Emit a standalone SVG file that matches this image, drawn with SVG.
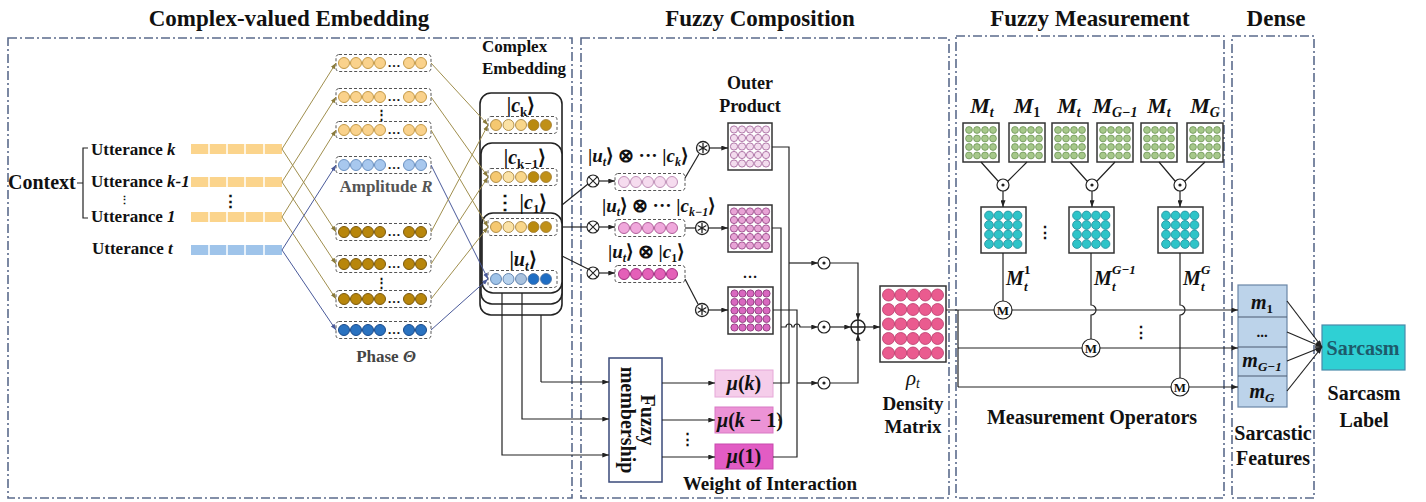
<svg xmlns="http://www.w3.org/2000/svg" width="1426" height="502" viewBox="0 0 1426 502">
<style>
text{font-family:"Liberation Serif","Times New Roman",serif;font-weight:bold;fill:#111}
.t{font-size:23px;text-anchor:middle}
.lb{font-size:17px}
.mi{font-style:italic}
.mid{text-anchor:middle}
.panel{fill:none;stroke:#5b6b8c;stroke-width:1.6;stroke-dasharray:9 3 2 3}
.ol{stroke:#a08f4e;stroke-width:1;fill:none}
.bl{stroke:#4a5a9a;stroke-width:1;fill:none}
.k{stroke:#222;stroke-width:1.2;fill:none}
.dash{fill:none;stroke:#555;stroke-width:1;stroke-dasharray:3 2}
.stack{fill:#fff;stroke:#222;stroke-width:1.6}
.mat{fill:#fff;stroke:#333;stroke-width:1.5}
.sep{stroke:#fff;stroke-width:1.5}
</style>
<defs>
<marker id="ak" viewBox="0 0 8 6" refX="8" refY="3" markerWidth="7" markerHeight="5" orient="auto" markerUnits="userSpaceOnUse"><path d="M0 0 L8 3 L0 6z" fill="#222"/></marker>
<marker id="ao" viewBox="0 0 8 6" refX="8" refY="3" markerWidth="6" markerHeight="5" orient="auto" markerUnits="userSpaceOnUse"><path d="M0 0 L8 3 L0 6z" fill="#8a7a3a"/></marker>
<marker id="ab" viewBox="0 0 8 6" refX="8" refY="3" markerWidth="6" markerHeight="5" orient="auto" markerUnits="userSpaceOnUse"><path d="M0 0 L8 3 L0 6z" fill="#4a5a9a"/></marker>
<g id="row6"><rect x="0" y="-8.5" width="95" height="17" rx="3" fill="none" stroke="#555" stroke-dasharray="3 2"/><circle cx="8" r="5.5"/><circle cx="20" r="5.5"/><circle cx="32" r="5.5"/><circle cx="44" r="5.5"/><circle cx="73" r="5.5"/><circle cx="85" r="5.5"/></g>
<g id="row5"><rect x="0" y="-8.5" width="70" height="17" rx="3" fill="none" stroke="#555" stroke-dasharray="3 2"/><circle cx="9" r="5.5"/><circle cx="21" r="5.5"/><circle cx="33" r="5.5"/><circle cx="45" r="5.5"/><circle cx="57" r="5.5"/></g>
<g id="m5"><circle cx="6" cy="6.5" r="3.6"/><circle cx="14" cy="6.5" r="3.6"/><circle cx="22" cy="6.5" r="3.6"/><circle cx="30" cy="6.5" r="3.6"/><circle cx="38" cy="6.5" r="3.6"/>
<circle cx="6" cy="15" r="3.6"/><circle cx="14" cy="15" r="3.6"/><circle cx="22" cy="15" r="3.6"/><circle cx="30" cy="15" r="3.6"/><circle cx="38" cy="15" r="3.6"/>
<circle cx="6" cy="23.5" r="3.6"/><circle cx="14" cy="23.5" r="3.6"/><circle cx="22" cy="23.5" r="3.6"/><circle cx="30" cy="23.5" r="3.6"/><circle cx="38" cy="23.5" r="3.6"/>
<circle cx="6" cy="32" r="3.6"/><circle cx="14" cy="32" r="3.6"/><circle cx="22" cy="32" r="3.6"/><circle cx="30" cy="32" r="3.6"/><circle cx="38" cy="32" r="3.6"/>
<circle cx="6" cy="40.5" r="3.6"/><circle cx="14" cy="40.5" r="3.6"/><circle cx="22" cy="40.5" r="3.6"/><circle cx="30" cy="40.5" r="3.6"/><circle cx="38" cy="40.5" r="3.6"/></g>
<g id="md"><circle cx="8.5" cy="9" r="6"/><circle cx="20.75" cy="9" r="6"/><circle cx="33" cy="9" r="6"/><circle cx="45.25" cy="9" r="6"/><circle cx="57.5" cy="9" r="6"/>
<circle cx="8.5" cy="23.5" r="6"/><circle cx="20.75" cy="23.5" r="6"/><circle cx="33" cy="23.5" r="6"/><circle cx="45.25" cy="23.5" r="6"/><circle cx="57.5" cy="23.5" r="6"/>
<circle cx="8.5" cy="38" r="6"/><circle cx="20.75" cy="38" r="6"/><circle cx="33" cy="38" r="6"/><circle cx="45.25" cy="38" r="6"/><circle cx="57.5" cy="38" r="6"/>
<circle cx="8.5" cy="52.5" r="6"/><circle cx="20.75" cy="52.5" r="6"/><circle cx="33" cy="52.5" r="6"/><circle cx="45.25" cy="52.5" r="6"/><circle cx="57.5" cy="52.5" r="6"/>
<circle cx="8.5" cy="67" r="6"/><circle cx="20.75" cy="67" r="6"/><circle cx="33" cy="67" r="6"/><circle cx="45.25" cy="67" r="6"/><circle cx="57.5" cy="67" r="6"/></g>
<g id="mg"><circle cx="6" cy="7" r="3.4"/><circle cx="14" cy="7" r="3.4"/><circle cx="22" cy="7" r="3.4"/><circle cx="30" cy="7" r="3.4"/>
<circle cx="6" cy="15.5" r="3.4"/><circle cx="14" cy="15.5" r="3.4"/><circle cx="22" cy="15.5" r="3.4"/><circle cx="30" cy="15.5" r="3.4"/>
<circle cx="6" cy="24" r="3.4"/><circle cx="14" cy="24" r="3.4"/><circle cx="22" cy="24" r="3.4"/><circle cx="30" cy="24" r="3.4"/>
<circle cx="6" cy="32.5" r="3.4"/><circle cx="14" cy="32.5" r="3.4"/><circle cx="22" cy="32.5" r="3.4"/><circle cx="30" cy="32.5" r="3.4"/></g>
<g id="mc"><circle cx="8" cy="8.5" r="4.4"/><circle cx="17.5" cy="8.5" r="4.4"/><circle cx="27" cy="8.5" r="4.4"/><circle cx="36.5" cy="8.5" r="4.4"/>
<circle cx="8" cy="18" r="4.4"/><circle cx="17.5" cy="18" r="4.4"/><circle cx="27" cy="18" r="4.4"/><circle cx="36.5" cy="18" r="4.4"/>
<circle cx="8" cy="27.5" r="4.4"/><circle cx="17.5" cy="27.5" r="4.4"/><circle cx="27" cy="27.5" r="4.4"/><circle cx="36.5" cy="27.5" r="4.4"/>
<circle cx="8" cy="37" r="4.4"/><circle cx="17.5" cy="37" r="4.4"/><circle cx="27" cy="37" r="4.4"/><circle cx="36.5" cy="37" r="4.4"/></g>
<g id="odot"><circle r="6" fill="#fff" stroke="#222" stroke-width="1.2"/><circle r="1.6" fill="#222"/></g>
<g id="otimes"><circle r="6" fill="#fff" stroke="#222" stroke-width="1.1"/><path d="M-4.2 -4.2 L4.2 4.2 M-4.2 4.2 L4.2 -4.2" stroke="#222" stroke-width="1.1"/></g>
<g id="ostar"><circle r="6.5" fill="#fff" stroke="#222" stroke-width="1.3"/><path d="M0 -5 V5 M-4.3 -2.5 L4.3 2.5 M-4.3 2.5 L4.3 -2.5" stroke="#222" stroke-width="1.3"/></g>
<g id="oplus"><circle r="7" fill="#fff" stroke="#222" stroke-width="1.5"/><path d="M-7 0 H7 M0 -7 V7" stroke="#222" stroke-width="1.5"/></g>
<g id="mcirc"><circle r="9" fill="#fff" stroke="#222" stroke-width="1.2"/></g>
</defs>

<rect width="1426" height="502" fill="#fff"/>

<!-- panels -->
<g id="panels">
<rect class="panel" x="8" y="38" width="564" height="460"/>
<rect class="panel" x="581" y="38" width="368" height="460"/>
<rect class="panel" x="956" y="36" width="268" height="462"/>
<rect class="panel" x="1232" y="36" width="82" height="462"/>
<text class="t" x="289" y="26">Complex-valued Embedding</text>
<text class="t" x="760" y="26">Fuzzy Composition</text>
<text class="t" x="1090" y="26">Fuzzy Measurement</text>
<text class="t" x="1276" y="26">Dense</text>
</g>

<!-- context -->
<g id="context">
<text x="8" y="189" font-size="20">Context</text>
<path class="k" d="M88 148 H83 V218 H88 M83 183 H77"/>
<text class="lb" x="91" y="155">Utterance <tspan class="mi">k</tspan></text>
<text class="lb" x="91" y="187">Utterance <tspan class="mi">k-1</tspan></text>
<text x="119" y="204" font-size="11">⋮</text>
<text class="lb" x="91" y="222">Utterance <tspan class="mi">1</tspan></text>
<text class="lb" x="92" y="254">Utterance <tspan class="mi">t</tspan></text>
</g>

<g id="bars">
<rect x="191" y="144" width="91" height="10" fill="#fbd48c"/>
<rect x="191" y="177" width="91" height="10" fill="#fbd48c"/>
<rect x="191" y="212" width="91" height="10" fill="#fbd48c"/>
<rect x="191" y="245" width="91" height="10" fill="#9fc4ea"/>
<path class="sep" d="M209 144v10M227 144v10M245 144v10M264 144v10M209 177v10M227 177v10M245 177v10M264 177v10M209 212v10M227 212v10M245 212v10M264 212v10M209 245v10M227 245v10M245 245v10M264 245v10"/>
<text class="lb" x="230" y="207" text-anchor="middle">⋮</text>
</g>

<!-- amplitude / phase rows -->
<g id="amplitude">
<use href="#row6" x="336" y="63" fill="#fad28c" stroke="#c49a48"/>
<use href="#row6" x="336" y="97" fill="#fad28c" stroke="#c49a48"/>
<use href="#row6" x="336" y="130" fill="#fad28c" stroke="#c49a48"/>
<use href="#row6" x="336" y="165" fill="#a8c8ee" stroke="#6a90c0"/>
<text x="394" y="67" font-size="13" class="mid">…</text>
<text x="394" y="101" font-size="13" class="mid">…</text>
<text x="394" y="134" font-size="13" class="mid">…</text>
<text x="394" y="169" font-size="13" class="mid">…</text>
<text x="381" y="119" font-size="13" class="mid">⋮</text>
<text x="386" y="192" font-size="17" class="mid" style="fill:#555">Amplitude <tspan class="mi" style="fill:#555">R</tspan></text>
</g>
<g id="phase">
<use href="#row6" x="336" y="232" fill="#b8860b" stroke="#7a5a10"/>
<use href="#row6" x="336" y="264" fill="#b8860b" stroke="#7a5a10"/>
<use href="#row6" x="336" y="299" fill="#b8860b" stroke="#7a5a10"/>
<use href="#row6" x="336" y="330" fill="#2a72c0" stroke="#1a4a8a"/>
<text x="394" y="236" font-size="13" class="mid">…</text>
<text x="394" y="268" font-size="13" class="mid">…</text>
<text x="394" y="303" font-size="13" class="mid">…</text>
<text x="394" y="334" font-size="13" class="mid">…</text>
<text x="381" y="287" font-size="13" class="mid">⋮</text>
<text x="386" y="362" font-size="17" class="mid" style="fill:#444">Phase <tspan class="mi" style="fill:#444">Θ</tspan></text>
</g>

<!-- complex embedding stack -->
<g id="complex-embedding">
<text x="482" y="52" font-size="17">Complex</text>
<text x="482" y="74" font-size="17">Embedding</text>
<rect class="stack" x="480" y="93" width="82" height="222" rx="11"/>
<rect class="stack" x="481" y="143" width="81" height="161" rx="11"/>
<rect class="stack" x="482" y="213" width="80" height="80" rx="11"/>
<text x="521" y="112" font-size="20" class="mid">|<tspan class="mi">c</tspan><tspan font-size="13" dy="4">k</tspan><tspan dy="-4">⟩</tspan></text>
<text x="525" y="164" font-size="20" class="mid">|<tspan class="mi">c</tspan><tspan font-size="13" dy="4">k−1</tspan><tspan dy="-4">⟩</tspan></text>
<text x="521" y="209" font-size="20" class="mid">⋮ |<tspan class="mi">c</tspan><tspan font-size="13" dy="4">1</tspan><tspan dy="-4">⟩</tspan></text>
<text x="523" y="266" font-size="20" class="mid">|<tspan class="mi">u</tspan><tspan font-size="13" dy="4" class="mi">t</tspan><tspan dy="-4">⟩</tspan></text>
<g stroke="#a07a30" stroke-width="0.8">
<rect x="488" y="116.5" width="69" height="17" rx="3" class="dash"/>
<circle cx="496" cy="125" r="5.5" fill="#f5c870"/><circle cx="508.5" cy="125" r="5.5" fill="#fbe2a6"/><circle cx="521" cy="125" r="5.5" fill="#f9d68a"/><circle cx="533.5" cy="125" r="5.5" fill="#b98a10"/><circle cx="546" cy="125" r="5.5" fill="#c09018"/>
<rect x="488" y="168.5" width="69" height="17" rx="3" class="dash"/>
<circle cx="496" cy="177" r="5.5" fill="#f5c870"/><circle cx="508.5" cy="177" r="5.5" fill="#fbe2a6"/><circle cx="521" cy="177" r="5.5" fill="#f9d68a"/><circle cx="533.5" cy="177" r="5.5" fill="#b98a10"/><circle cx="546" cy="177" r="5.5" fill="#c09018"/>
<rect x="488" y="218.5" width="69" height="17" rx="3" class="dash"/>
<circle cx="496" cy="227" r="5.5" fill="#f5c870"/><circle cx="508.5" cy="227" r="5.5" fill="#fbe2a6"/><circle cx="521" cy="227" r="5.5" fill="#f9d68a"/><circle cx="533.5" cy="227" r="5.5" fill="#b98a10"/><circle cx="546" cy="227" r="5.5" fill="#c09018"/>
</g>
<g stroke="#4a70a0" stroke-width="0.8">
<rect x="488" y="270.5" width="69" height="17" rx="3" class="dash"/>
<circle cx="496" cy="279" r="5.5" fill="#9fc3e8"/><circle cx="508.5" cy="279" r="5.5" fill="#b8d3ee"/><circle cx="521" cy="279" r="5.5" fill="#a9c2de"/><circle cx="533.5" cy="279" r="5.5" fill="#1f6ec4"/><circle cx="546" cy="279" r="5.5" fill="#1f6ec4"/>
</g>
</g>

<!-- fuzzy composition nodes -->
<g id="tensor-rows">
<use href="#row5" x="615" y="182" fill="#f6dcef" stroke="#c090b8"/>
<use href="#row5" x="615" y="228" fill="#f0a8dc" stroke="#b0609a"/>
<use href="#row5" x="615" y="274" fill="#e460b8" stroke="#a03080"/>
<text x="588" y="162" font-size="19">|<tspan class="mi">u</tspan><tspan font-size="12" dy="4" class="mi">t</tspan><tspan dy="-4">⟩ ⊗ ··· |</tspan><tspan class="mi">c</tspan><tspan font-size="12" dy="4" class="mi">k</tspan><tspan dy="-4">⟩</tspan></text>
<text x="602" y="212" font-size="19">|<tspan class="mi">u</tspan><tspan font-size="12" dy="4" class="mi">t</tspan><tspan dy="-4">⟩ ⊗ ··· |</tspan><tspan class="mi">c</tspan><tspan font-size="12" dy="4" class="mi">k−1</tspan><tspan dy="-4">⟩</tspan></text>
<text x="608" y="258" font-size="19">|<tspan class="mi">u</tspan><tspan font-size="12" dy="4" class="mi">t</tspan><tspan dy="-4">⟩ ⊗ |</tspan><tspan class="mi">c</tspan><tspan font-size="12" dy="4">1</tspan><tspan dy="-4">⟩</tspan></text>
</g>
<g id="outer-product">
<text x="750" y="89" font-size="18" class="mid">Outer</text>
<text x="750" y="112" font-size="18" class="mid">Product</text>
<rect class="mat" x="728" y="123" width="44" height="47"/>
<use href="#m5" x="728" y="123" fill="#f3dcee" stroke="#a86ca0" stroke-width="0.9"/>
<rect class="mat" x="728" y="205" width="44" height="47"/>
<use href="#m5" x="728" y="205" fill="#e8a4d6" stroke="#9a4a8a" stroke-width="0.9"/>
<text x="750" y="278" font-size="15" class="mid">…</text>
<rect class="mat" x="728" y="287" width="45" height="47"/>
<use href="#m5" x="728.5" y="287" fill="#d968c0" stroke="#8a3a7a" stroke-width="0.9"/>
</g>
<g id="fuzzy-membership">
<rect x="609" y="358" width="53" height="124" fill="#fff" stroke="#3a4a7a" stroke-width="1.5"/>
<text transform="translate(641,420) rotate(90)" font-size="20" class="mid">Fuzzy</text>
<text transform="translate(621,420) rotate(90)" font-size="20" class="mid">membership</text>
</g>
<g id="weights">
<rect x="715" y="370" width="58" height="27" fill="#f5cdea" stroke="#e6a8d8"/>
<rect x="715" y="407" width="58" height="26" fill="#ec93d6" stroke="#d878c4"/>
<rect x="715" y="444" width="58" height="25" fill="#e25cc4" stroke="#c848ac"/>
<text x="744" y="390" font-size="20" class="mid"><tspan class="mi">μ</tspan>(<tspan class="mi">k</tspan>)</text>
<text x="717" y="427" font-size="20"><tspan class="mi">μ</tspan>(<tspan class="mi">k</tspan> − 1)</text>
<text x="744" y="463" font-size="20" class="mid"><tspan class="mi">μ</tspan>(1)</text>
<text x="687" y="444" font-size="15" class="mid">⋮</text>
<text x="770" y="490" font-size="19" class="mid">Weight of Interaction</text>
</g>
<g id="density-matrix">
<rect class="mat" x="880" y="286" width="66" height="76"/>
<use href="#md" x="880" y="286" fill="#ea5b8f" stroke="#b83a6a" stroke-width="0.8"/>
<text x="913" y="385" font-size="21" class="mid" style="font-weight:normal"><tspan class="mi">ρ</tspan><tspan font-size="14" dy="3" class="mi">t</tspan></text>
<text x="913" y="410" font-size="19" class="mid">Density</text>
<text x="913" y="433" font-size="19" class="mid">Matrix</text>
</g>

<!-- fuzzy measurement nodes -->
<g id="projectors">
<text x="982" y="113" font-size="22" class="mid mi">M<tspan font-size="14" dy="4">t</tspan></text>
<text x="1027" y="113" font-size="22" class="mid mi">M<tspan font-size="14" dy="4" style="font-style:normal">1</tspan></text>
<text x="1069" y="113" font-size="22" class="mid mi">M<tspan font-size="14" dy="4">t</tspan></text>
<text x="1115" y="113" font-size="22" class="mid mi">M<tspan font-size="14" dy="4">G−1</tspan></text>
<text x="1159" y="113" font-size="22" class="mid mi">M<tspan font-size="14" dy="4">t</tspan></text>
<text x="1205" y="113" font-size="22" class="mid mi">M<tspan font-size="14" dy="4">G</tspan></text>
<rect class="mat" x="963" y="123" width="36" height="39"/><use href="#mg" x="963" y="123" fill="#a6c88a" stroke="#6e9658" stroke-width="0.8"/>
<rect class="mat" x="1009" y="123" width="36" height="39"/><use href="#mg" x="1009" y="123" fill="#a6c88a" stroke="#6e9658" stroke-width="0.8"/>
<rect class="mat" x="1052" y="123" width="36" height="39"/><use href="#mg" x="1052" y="123" fill="#a6c88a" stroke="#6e9658" stroke-width="0.8"/>
<rect class="mat" x="1097" y="123" width="36" height="39"/><use href="#mg" x="1097" y="123" fill="#a6c88a" stroke="#6e9658" stroke-width="0.8"/>
<rect class="mat" x="1141" y="123" width="36" height="39"/><use href="#mg" x="1141" y="123" fill="#a6c88a" stroke="#6e9658" stroke-width="0.8"/>
<rect class="mat" x="1187" y="123" width="36" height="39"/><use href="#mg" x="1187" y="123" fill="#a6c88a" stroke="#6e9658" stroke-width="0.8"/>
</g>
<g id="measurement-operators">
<rect class="mat" x="981" y="207" width="45" height="46"/><use href="#mc" x="981" y="207" fill="#2ec4c8" stroke="#1f8a9a" stroke-width="0.8"/>
<rect class="mat" x="1069" y="207" width="45" height="46"/><use href="#mc" x="1069" y="207" fill="#2ec4c8" stroke="#1f8a9a" stroke-width="0.8"/>
<rect class="mat" x="1158" y="207" width="45" height="46"/><use href="#mc" x="1158" y="207" fill="#2ec4c8" stroke="#1f8a9a" stroke-width="0.8"/>
<text x="1045" y="238" font-size="16" class="mid">⋮</text>
<text x="1006" y="285" font-size="20" class="mi">M</text><text x="1024" y="274" font-size="13">1</text><text x="1024" y="291" font-size="13" class="mi">t</text>
<text x="1094" y="285" font-size="20" class="mi">M</text><text x="1112" y="274" font-size="13" class="mi">G−1</text><text x="1112" y="291" font-size="13" class="mi">t</text>
<text x="1183" y="285" font-size="20" class="mi">M</text><text x="1201" y="274" font-size="13" class="mi">G</text><text x="1201" y="291" font-size="13" class="mi">t</text>
<text x="1141" y="338" font-size="16" class="mid">⋮</text>
<text x="1092" y="424" font-size="20" class="mid">Measurement Operators</text>
</g>

<!-- dense -->
<g id="sarcastic-features">
<rect x="1238" y="285" width="49" height="122" fill="#bcd3ea" stroke="#6a86a6" stroke-width="1.2"/>
<path d="M1238 317H1287M1238 347H1287M1238 376H1287" stroke="#4a5a70" stroke-width="1.2"/>
<text x="1262" y="309" font-size="20" class="mid"><tspan class="mi">m</tspan><tspan font-size="13" dy="4">1</tspan></text>
<text x="1262" y="337" font-size="15" class="mid">...</text>
<text x="1262" y="367" font-size="20" class="mid"><tspan class="mi">m</tspan><tspan font-size="13" dy="4" class="mi">G−1</tspan></text>
<text x="1262" y="398" font-size="20" class="mid"><tspan class="mi">m</tspan><tspan font-size="13" dy="4" class="mi">G</tspan></text>
<text x="1273" y="440" font-size="20" class="mid">Sarcastic</text>
<text x="1273" y="465" font-size="20" class="mid">Features</text>
</g>
<g id="sarcasm-label">
<rect x="1322" y="325" width="83" height="45" fill="#2fd0d4" stroke="#4a8aaa" stroke-width="1.2"/>
<text x="1363" y="355" font-size="20" class="mid" style="fill:#1d5a6b">Sarcasm</text>
<text x="1364" y="400" font-size="20" class="mid">Sarcasm</text>
<text x="1364" y="427" font-size="20" class="mid">Label</text>
</g>

<!-- connectors -->
<g id="connectors">
<path class="ol" marker-end="url(#ao)" d="M282 149 L336 63"/>
<path class="ol" marker-end="url(#ao)" d="M282 149 L336 232"/>
<path class="ol" marker-end="url(#ao)" d="M282 182 L336 97"/>
<path class="ol" marker-end="url(#ao)" d="M282 182 L336 264"/>
<path class="ol" marker-end="url(#ao)" d="M282 217 L336 130"/>
<path class="ol" marker-end="url(#ao)" d="M282 217 L336 299"/>
<path class="bl" marker-end="url(#ab)" d="M282 250 L336 165"/>
<path class="bl" marker-end="url(#ab)" d="M282 250 L336 330"/>
<path class="ol" marker-end="url(#ao)" d="M431 63 L488 125"/>
<path class="ol" marker-end="url(#ao)" d="M431 97 L488 177"/>
<path class="ol" marker-end="url(#ao)" d="M431 130 L488 227"/>
<path class="bl" marker-end="url(#ab)" d="M431 165 L488 279"/>
<path class="ol" marker-end="url(#ao)" d="M431 232 L488 125"/>
<path class="ol" marker-end="url(#ao)" d="M431 264 L488 177"/>
<path class="ol" marker-end="url(#ao)" d="M431 299 L488 227"/>
<path class="bl" marker-end="url(#ab)" d="M431 330 L488 279"/>

<path class="k" d="M562 205 L588 184"/>
<path class="k" d="M562 227 L587 227"/>
<path class="k" d="M562 256 L588 269"/>
<use href="#otimes" x="593" y="181"/>
<use href="#otimes" x="593" y="227"/>
<use href="#otimes" x="593" y="273"/>
<path class="k" marker-end="url(#ak)" d="M599 181 H615"/>
<path class="k" marker-end="url(#ak)" d="M599 227 H615"/>
<path class="k" marker-end="url(#ak)" d="M599 273 H615"/>

<path class="k" d="M685 178 L699 154"/>
<path class="k" d="M685 228 H696"/>
<path class="k" d="M685 279 L698 304"/>
<use href="#ostar" x="703" y="148"/>
<use href="#ostar" x="702" y="228"/>
<use href="#ostar" x="702" y="310"/>
<path class="k" marker-end="url(#ak)" d="M709.5 148 H728"/>
<path class="k" marker-end="url(#ak)" d="M708.5 228 H728"/>
<path class="k" marker-end="url(#ak)" d="M708.5 310 H728"/>

<path class="k" d="M541 315 V382"/>
<path class="k" marker-end="url(#ak)" d="M541 382 H609"/>
<path class="k" marker-end="url(#ak)" d="M522 293 V419 H609"/>
<path class="k" marker-end="url(#ak)" d="M502 293 V455 H609"/>
<path class="k" marker-end="url(#ak)" d="M662 383 H715"/>
<path class="k" marker-end="url(#ak)" d="M662 420 H715"/>
<path class="k" marker-end="url(#ak)" d="M662 457 H715"/>

<path class="k" d="M772 147 H789 V383 H773"/>
<path class="k" d="M772 228 H781 V420 H778"/>
<path class="k" d="M773 310 H797 V457 H773"/>
<path class="k" marker-end="url(#ak)" d="M789 263 H818"/>
<path class="k" marker-end="url(#ak)" d="M781 327 H786 a3 3 0 0 1 6 0 H794 a3 3 0 0 1 6 0 H818"/>
<path class="k" marker-end="url(#ak)" d="M797 383 H818"/>
<use href="#odot" x="824" y="263"/>
<use href="#odot" x="824" y="327"/>
<use href="#odot" x="824" y="383"/>
<path class="k" marker-end="url(#ak)" d="M830 263 H858 V320"/>
<path class="k" marker-end="url(#ak)" d="M830 383 H858 V334"/>
<path class="k" marker-end="url(#ak)" d="M830 327 H851"/>
<use href="#oplus" x="858" y="327"/>
<path class="k" marker-end="url(#ak)" d="M865 327 H880"/>

<path class="k" d="M981 162 L998 181 M1027 162 L1008 181 M1070 162 L1087 181 M1115 162 L1097 181 M1159 162 L1175 181 M1205 162 L1185 181"/>
<use href="#odot" x="1003" y="185"/>
<use href="#odot" x="1092" y="185"/>
<use href="#odot" x="1180" y="185"/>
<path class="k" marker-end="url(#ak)" d="M1003 191 V207"/>
<path class="k" marker-end="url(#ak)" d="M1092 191 V207"/>
<path class="k" marker-end="url(#ak)" d="M1180 191 V207"/>

<path class="k" marker-end="url(#ak)" d="M946 310 H1238"/>
<path class="k" d="M958 310 V387"/>
<path class="k" marker-end="url(#ak)" d="M958 348 H1238"/>
<path class="k" marker-end="url(#ak)" d="M958 387 H1238"/>
<path class="k" d="M1003 253 V301"/>
<path class="k" d="M1091 253 V305 a5 5 0 0 1 0 10 V339"/>
<path class="k" d="M1180 253 V305 a5 5 0 0 1 0 10 V378"/>
<use href="#mcirc" x="1003" y="310"/>
<use href="#mcirc" x="1091" y="348"/>
<use href="#mcirc" x="1180" y="387"/>
<text x="1003" y="315" font-size="13" class="mid">M</text>
<text x="1091" y="353" font-size="13" class="mid">M</text>
<text x="1180" y="392" font-size="13" class="mid">M</text>

<path class="k" marker-end="url(#ak)" d="M1287 301 L1322 347"/>
<path class="k" marker-end="url(#ak)" d="M1287 332 L1322 347"/>
<path class="k" marker-end="url(#ak)" d="M1287 361 L1322 347"/>
<path class="k" marker-end="url(#ak)" d="M1287 391 L1322 347"/>
</g>
</svg>
